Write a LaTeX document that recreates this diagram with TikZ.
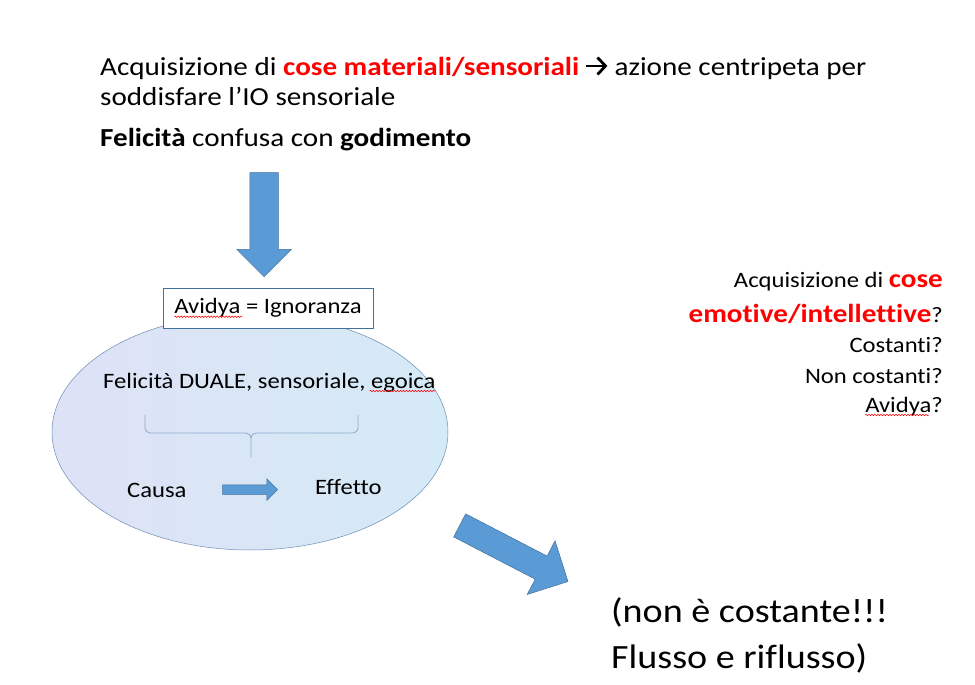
\documentclass[tikz,border=0pt]{standalone}
\usepackage{fontspec}
\setmainfont{Carlito}[FakeStretch=1.12,Ligatures=NoCommon]
\usepackage{tikz}
\usetikzlibrary{arrows.meta,positioning,calc,shapes.geometric,shapes.arrows,decorations.pathmorphing}
\definecolor{ppblue}{RGB}{91,155,213}
\definecolor{ppedge}{RGB}{65,113,156}
\definecolor{ellleft}{RGB}{222,226,246}
\definecolor{ellright}{RGB}{212,234,246}
\definecolor{ellline}{RGB}{110,140,180}
\definecolor{braceline}{RGB}{140,170,205}
\definecolor{hotred}{RGB}{255,0,0}

\begin{document}
\begin{tikzpicture}[x=1pt,y=-1pt,
  bigarrow/.style={single arrow,fill=ppblue,draw=ppedge,line width=0.5pt,
                   inner xsep=0pt,single arrow head indent=0pt,anchor=tip},
  linetxt/.style={inner sep=0pt,anchor=base west,font=\fontsize{26}{31}\selectfont},
  righttxt/.style={inner sep=0pt,anchor=base east,font=\fontsize{22}{26}\selectfont},
  bigtxt/.style={inner sep=0pt,anchor=base west,font=\fontsize{34}{40}\selectfont},
  smalltxt/.style={inner sep=0pt,anchor=base west,font=\fontsize{22}{26}\selectfont},
  spellerr/.style={red,line width=0.5pt,decorate,
                   decoration={snake,segment length=3pt,amplitude=0.8pt}}]
\useasboundingbox (0,0) rectangle (975,685);

% top text
\node[linetxt] (t1a) at (100,75)
  {Acquisizione di \textbf{\textcolor{hotred}{cose materiali/sensoriali}}};
\node[linetxt] (t1b) at ($(t1a.base east)+(35,0)$) {azione centripeta per};
\draw[-{Straight Barb[length=8pt,width=17pt]},line width=2.8pt]
  ($(t1a.base east)+(7,-9)$) -- ($(t1b.base west)+(-7,-9)$);
\node[linetxt] (t2) at (100,105) {soddisfare l’IO sensoriale};
\node[linetxt] (t3) at (100,146) {\textbf{Felicità} confusa con \textbf{godimento}};

% arrow down
\node[bigarrow,inner ysep=14pt,single arrow head extend=13pt,
      minimum height=104pt,rotate=-90] (down) at (264,277) {};

% ellipse
\node[ellipse,draw=ellline,line width=0.5pt,left color=ellleft,right color=ellright,
      minimum width=396pt,minimum height=236pt] (ell) at (250,432) {};

% box
\node[draw=ppedge,fill=white,line width=0.6pt,minimum width=210pt,minimum height=40pt,
      font=\fontsize{22}{26}\selectfont] (avidya) at (268,308) {Avidya = Ignoranza};
\draw[spellerr] ($(avidya.text)+(0,3)$) -- ++(68,0);

\node[smalltxt] (dual) at (103,388) {Felicità DUALE, sensoriale, egoica};
\draw[spellerr] ($(dual.base east)+(-66,3)$) -- ++(66,0);

% brace
\draw[braceline,line width=0.8pt,rounded corners=5pt]
  (145,415) -- (145,433) -- (251,433) -- (251,457)
  (358,415) -- (358,433) -- (251,433) -- (251,457);

\node[smalltxt] (causa) at (127,497) {Causa};
\node[smalltxt] (effetto) at (315,494) {Effetto};
\node[bigarrow,inner ysep=4.5pt,single arrow head extend=6pt,
      minimum height=55pt] (small) at (278,489.5) {};

% arrow down right
\node[bigarrow,inner ysep=12.75pt,single arrow head extend=17.25pt,
      minimum height=122pt,rotate=-27.4] (diag) at (568.3,581.7) {};

% right text
\node[righttxt] (q1) at (943,287)
  {Acquisizione di \textbf{\textcolor{hotred}{\fontsize{26}{30}\selectfont cose}}};
\node[righttxt] (q2) at (943,322)
  {\textbf{\textcolor{hotred}{\fontsize{26}{30}\selectfont emotive/intellettive}}?};
\node[righttxt] (q3) at (943,352) {Costanti?};
\node[righttxt] (q4) at (943,383) {Non costanti?};
\node[righttxt] (q5) at (943,412) {Avidya?};
\draw[spellerr] ($(q5.base west)+(0,3)$) -- ++(64,0);

% bottom text
\node[bigtxt] (b1) at (611,622) {(non è costante!!!};
\node[bigtxt] (b2) at (611,668) {Flusso e riflusso)};
\end{tikzpicture}
\end{document}
